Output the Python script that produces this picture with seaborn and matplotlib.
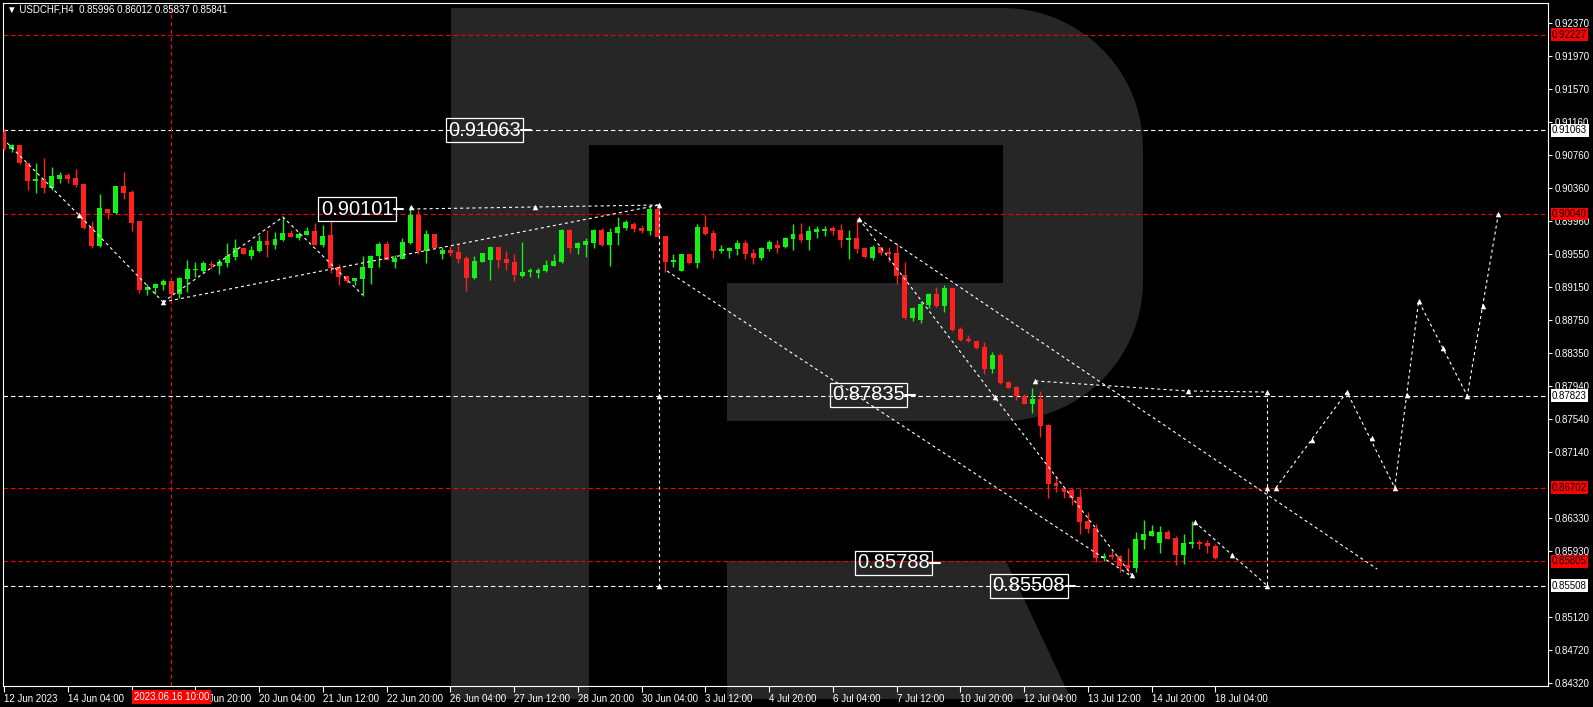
import matplotlib
matplotlib.use("Agg")
import matplotlib.pyplot as plt
import matplotlib.transforms as mtransforms
from matplotlib.patches import Polygon
import numpy as np
import seaborn as sns

sns.set_style("dark", {"axes.facecolor": "black", "figure.facecolor": "black"})
plt.rcParams["font.family"] = ["Liberation Sans", "DejaVu Sans"]
plt.rcParams["lines.scale_dashes"] = False

# ---------------- data ----------------
symbol = "USDCHF,H4"

opens = [0.91041, 0.90833, 0.90882, 0.90662, 0.90443, 0.90467, 0.90357, 0.90467, 0.90516, 0.90479,
         0.90406, 0.89882, 0.89650, 0.90101, 0.90052, 0.90382, 0.90309, 0.89955, 0.89113, 0.89138,
         0.89174, 0.89223, 0.89065, 0.89248, 0.89357, 0.89345, 0.89430, 0.89406, 0.89442, 0.89516,
         0.89625, 0.89528, 0.89589, 0.89711, 0.89662, 0.89723, 0.89808, 0.89747, 0.89784, 0.89833,
         0.89662, 0.89784, 0.89394, 0.89284, 0.89223, 0.89248, 0.89382, 0.89528, 0.89674, 0.89455,
         0.89491, 0.89686, 0.90028, 0.89589, 0.89796, 0.89552, 0.89601, 0.89577, 0.89504, 0.89260,
         0.89455, 0.89479, 0.89638, 0.89491, 0.89455, 0.89284, 0.89333, 0.89321, 0.89345, 0.89406,
         0.89455, 0.89845, 0.89625, 0.89662, 0.89686, 0.89845, 0.89662, 0.89808, 0.89870, 0.89918,
         0.89870, 0.89833, 0.90101, 0.89772, 0.89455, 0.89345, 0.89552, 0.89443, 0.89882, 0.89808,
         0.89589, 0.89589, 0.89613, 0.89686, 0.89564, 0.89504, 0.89613, 0.89662, 0.89638, 0.89735,
         0.89796, 0.89723, 0.89821, 0.89833, 0.89870, 0.89845, 0.89723, 0.89747, 0.89625, 0.89504,
         0.89638, 0.89577, 0.89564, 0.89296, 0.88772, 0.88747, 0.88930, 0.89065, 0.88918, 0.89138,
         0.88638, 0.88516, 0.88491, 0.88418, 0.88150, 0.88321, 0.87991, 0.87930, 0.87821, 0.87723,
         0.87784, 0.87467, 0.86759, 0.86698, 0.86674, 0.86589, 0.86296, 0.86210, 0.85845, 0.85881,
         0.85869, 0.85759, 0.85723, 0.86064, 0.86113, 0.86028, 0.86162, 0.86089, 0.85881, 0.86015,
         0.86040, 0.86028, 0.85996]
highs = [0.91077, 0.90894, 0.90882, 0.90662, 0.90662, 0.90723, 0.90614, 0.90553, 0.90540, 0.90589,
         0.90418, 0.89955, 0.90284, 0.90101, 0.90382, 0.90553, 0.90333, 0.89955, 0.89187, 0.89199,
         0.89248, 0.89223, 0.89272, 0.89479, 0.89455, 0.89467, 0.89467, 0.89491, 0.89686, 0.89735,
         0.89630, 0.89650, 0.89784, 0.89845, 0.89821, 0.90004, 0.89845, 0.89821, 0.89882, 0.89930,
         0.89906, 0.89967, 0.89430, 0.89284, 0.89260, 0.89528, 0.89540, 0.89699, 0.89711, 0.89540,
         0.89747, 0.90138, 0.90089, 0.89845, 0.89796, 0.89638, 0.89650, 0.89674, 0.89528, 0.89528,
         0.89564, 0.89650, 0.89638, 0.89589, 0.89552, 0.89699, 0.89382, 0.89382, 0.89479, 0.89552,
         0.89857, 0.89857, 0.89699, 0.89747, 0.89857, 0.89870, 0.89870, 0.90004, 0.89967, 0.89943,
         0.89906, 0.90150, 0.90162, 0.89772, 0.89552, 0.89552, 0.89552, 0.89918, 0.90028, 0.89845,
         0.89662, 0.89638, 0.89723, 0.89723, 0.89613, 0.89638, 0.89723, 0.89723, 0.89760, 0.89918,
         0.89930, 0.89894, 0.89894, 0.89894, 0.89894, 0.89918, 0.89845, 0.89991, 0.89638, 0.89662,
         0.89638, 0.89638, 0.89686, 0.89455, 0.88906, 0.88979, 0.89077, 0.89150, 0.89174, 0.89138,
         0.88662, 0.88564, 0.88491, 0.88479, 0.88357, 0.88345, 0.88004, 0.87942, 0.87845, 0.87918,
         0.87882, 0.87479, 0.86845, 0.86711, 0.86698, 0.86686, 0.86406, 0.86259, 0.85906, 0.85930,
         0.85881, 0.85967, 0.86162, 0.86308, 0.86247, 0.86235, 0.86186, 0.86113, 0.86137, 0.86296,
         0.86064, 0.86064, 0.86012]
lows = [0.90821, 0.90797, 0.90650, 0.90333, 0.90296, 0.90296, 0.90333, 0.90418, 0.90418, 0.90370,
        0.89857, 0.89625, 0.89638, 0.89979, 0.90040, 0.90223, 0.89833, 0.89077, 0.89052, 0.89065,
        0.89113, 0.89004, 0.89016, 0.89089, 0.89272, 0.89333, 0.89370, 0.89309, 0.89394, 0.89479,
        0.89548, 0.89491, 0.89577, 0.89516, 0.89613, 0.89711, 0.89760, 0.89723, 0.89784, 0.89662,
        0.89638, 0.89321, 0.89174, 0.89199, 0.89174, 0.89040, 0.89187, 0.89394, 0.89479, 0.89382,
        0.89491, 0.89674, 0.89552, 0.89443, 0.89625, 0.89491, 0.89528, 0.89443, 0.89101, 0.89248,
        0.89455, 0.89235, 0.89382, 0.89357, 0.89223, 0.89272, 0.89272, 0.89260, 0.89333, 0.89406,
        0.89443, 0.89564, 0.89552, 0.89516, 0.89625, 0.89650, 0.89406, 0.89662, 0.89845, 0.89821,
        0.89808, 0.89784, 0.89760, 0.89333, 0.89394, 0.89345, 0.89430, 0.89382, 0.89784, 0.89504,
        0.89564, 0.89504, 0.89540, 0.89491, 0.89430, 0.89479, 0.89589, 0.89564, 0.89625, 0.89601,
        0.89699, 0.89601, 0.89747, 0.89772, 0.89784, 0.89638, 0.89491, 0.89564, 0.89504, 0.89479,
        0.89540, 0.89455, 0.89187, 0.88760, 0.88735, 0.88711, 0.88894, 0.88906, 0.88845, 0.88613,
        0.88491, 0.88479, 0.88394, 0.88089, 0.88101, 0.87967, 0.87918, 0.87772, 0.87723, 0.87613,
        0.87321, 0.86576, 0.86650, 0.86576, 0.86491, 0.86137, 0.86150, 0.85796, 0.85808, 0.85832,
        0.85674, 0.85662, 0.85674, 0.85954, 0.86113, 0.85906, 0.86076, 0.85759, 0.85771, 0.85967,
        0.85954, 0.85906, 0.85837]
closes = [0.90833, 0.90882, 0.90662, 0.90443, 0.90467, 0.90357, 0.90504, 0.90516, 0.90467, 0.90394,
          0.89870, 0.89650, 0.90113, 0.90052, 0.90382, 0.90296, 0.89930, 0.89113, 0.89150, 0.89187,
          0.89223, 0.89065, 0.89260, 0.89370, 0.89370, 0.89443, 0.89418, 0.89455, 0.89528, 0.89625,
          0.89552, 0.89601, 0.89711, 0.89662, 0.89735, 0.89808, 0.89760, 0.89796, 0.89833, 0.89662,
          0.89772, 0.89382, 0.89272, 0.89223, 0.89260, 0.89394, 0.89528, 0.89674, 0.89479, 0.89504,
          0.89699, 0.90028, 0.89589, 0.89796, 0.89625, 0.89601, 0.89564, 0.89491, 0.89260, 0.89467,
          0.89564, 0.89638, 0.89479, 0.89443, 0.89296, 0.89333, 0.89357, 0.89357, 0.89418, 0.89467,
          0.89845, 0.89625, 0.89686, 0.89711, 0.89845, 0.89662, 0.89821, 0.89882, 0.89943, 0.89857,
          0.89833, 0.90101, 0.89760, 0.89455, 0.89479, 0.89552, 0.89443, 0.89882, 0.89796, 0.89589,
          0.89613, 0.89625, 0.89686, 0.89552, 0.89504, 0.89625, 0.89699, 0.89625, 0.89747, 0.89796,
          0.89723, 0.89833, 0.89857, 0.89857, 0.89833, 0.89723, 0.89747, 0.89613, 0.89516, 0.89638,
          0.89564, 0.89552, 0.89284, 0.88772, 0.88894, 0.88942, 0.89065, 0.88918, 0.89138, 0.88625,
          0.88503, 0.88491, 0.88406, 0.88150, 0.88321, 0.87979, 0.87918, 0.87821, 0.87723, 0.87784,
          0.87455, 0.86747, 0.86723, 0.86650, 0.86576, 0.86284, 0.86198, 0.85845, 0.85869, 0.85857,
          0.85747, 0.85723, 0.86076, 0.86137, 0.86174, 0.86162, 0.86076, 0.85881, 0.86028, 0.86040,
          0.86015, 0.85991, 0.85841]

# "15 Jun 12:00" sits under the crosshair tag in the original, so it is left blank
time_labels = ["12 Jun 2023", "14 Jun 04:00", "", "16 Jun 20:00", "20 Jun 04:00",
               "21 Jun 12:00", "22 Jun 20:00", "26 Jun 04:00", "27 Jun 12:00", "28 Jun 20:00",
               "30 Jun 04:00", "3 Jul 12:00", "4 Jul 20:00", "6 Jul 04:00", "7 Jul 12:00",
               "10 Jul 20:00", "12 Jul 04:00", "13 Jul 12:00", "14 Jul 20:00", "18 Jul 04:00"]
time_label_bars = [0, 8, 16, 24, 32, 40, 48, 56, 64, 72, 80, 88, 96, 104, 112, 120, 128, 136, 144, 152]

price_ticks = [0.92370, 0.91970, 0.91570, 0.91160, 0.90760, 0.90360, 0.89960, 0.89550, 0.89150,
               0.88750, 0.88350, 0.87940, 0.87540, 0.87140, 0.86330, 0.85930, 0.85120, 0.84720,
               0.84320]

# horizontal levels: price, colour
level_prices = [0.92227, 0.91063, 0.90040, 0.87823, 0.86702, 0.85805, 0.85508]
level_colors = ["#ff0000", "white", "#ff0000", "white", "#ff0000", "#ff0000", "white"]

# crosshair
cross_bar = 21
cross_text = "2023.06.16 10:00"

# boxed price labels: text, price, anchor bar
box_texts = ["0.91063", "0.90101", "0.87835", "0.85788", "0.85508"]
box_prices = [0.91063, 0.90101, 0.87835, 0.85788, 0.85508]
box_anchor_bars = [66.1, 50.1, 114.3, 117.4, 134.4]

# dashed analysis lines (bar position, price)
path_bars = [
    [0.4, 9.4, 19.95],
    [19.95, 35.0, 45.0],
    [19.95, 82.2],
    [51.1, 66.6, 82.2],
    [82.2, 82.2],
    [83.2, 141.4],
    [107.3, 124.3, 141.5],
    [107.3, 172.3],
    [129.4, 148.5, 158.5],
    [149.4, 154.1, 158.5],
    [158.5, 158.5],
    [159.6, 168.5, 174.5, 177.5, 183.6, 187.5],
]
path_prices = [
    [0.90906, 0.90028, 0.88967],
    [0.88967, 0.90004, 0.89052],
    [0.88967, 0.90150],
    [0.90101, 0.90126, 0.90150],
    [0.90150, 0.85508],
    [0.89345, 0.85625],
    [0.89979, 0.87808, 0.85637],
    [0.89979, 0.85710],
    [0.88004, 0.87882, 0.87869],
    [0.86284, 0.85881, 0.85508],
    [0.87869, 0.85508],
    [0.86702, 0.87870, 0.86702, 0.88979, 0.87823, 0.90040],
]

mark_bars = [9.4, 19.95, 51.1, 66.6, 82.2, 82.2, 82.2, 107.3, 124.3, 141.5, 129.4, 148.5,
             158.5, 149.4, 154.1, 158.5, 158.5, 159.6, 164.1, 168.5, 171.6, 174.5, 176.0,
             177.5, 180.6, 183.6, 185.6, 187.5]
mark_prices = [0.90028, 0.88967, 0.90126, 0.90126, 0.90150, 0.87823, 0.85508, 0.89979, 0.87808,
               0.85637, 0.88004, 0.87882, 0.87869, 0.86284, 0.85881, 0.85508, 0.86702, 0.86702,
               0.87284, 0.87870, 0.87308, 0.86702, 0.87833, 0.88979, 0.88406, 0.87823, 0.88918,
               0.90040]

BULL = "#14f014"
BEAR = "#ff2020"
LOGO = "#262626"

# ---------------- figure ----------------
W, H = 1593, 707
fig = plt.figure(figsize=(W / 100, H / 100), dpi=100, facecolor="black")
ax = fig.add_axes([3 / W, 1 - 686 / H, 1545 / W, 683 / H])
ax.set_facecolor("none")


def to_fig(pts):
    return [(x / W, 1 - y / H) for x, y in pts]


# watermark "R"
t1 = np.linspace(np.pi / 2, 0, 24)
t2 = np.linspace(0, -np.pi / 2, 24)
arc1 = [(1003 + 140 * np.cos(t), 148 - 140 * np.sin(t)) for t in t1]
arc2 = [(1003 + 140 * np.cos(t), 281 - 140 * np.sin(t)) for t in t2]
r_outline = ([(451, 8)] + arc1 + arc2 +
             [(727, 421), (727, 283), (1003, 283), (1003, 145), (589, 145), (589, 699), (451, 699)])
leg = [(727, 561), (1006, 561), (1071, 699), (727, 699)]
for shape in (r_outline, leg):
    fig.patches.append(Polygon(to_fig(shape), closed=True, transform=fig.transFigure,
                               facecolor=LOGO, edgecolor="none", zorder=-1))

# levels
for val, col in zip(level_prices, level_colors):
    ax.axhline(val, color=col, lw=0.8, dashes=(3.2, 2.2), zorder=2)
ax.axvline(cross_bar, color="#ff0000", lw=0.8, dashes=(3.2, 2.2), zorder=2)

# candles
o = np.array(opens)
h = np.array(highs)
l = np.array(lows)
c = np.array(closes)
idx = np.arange(len(o))
cols = np.where(c >= o, BULL, BEAR)
ax.vlines(idx, l, h, colors=cols, lw=1.0, zorder=3)
ax.bar(idx, np.maximum(np.abs(c - o), 0.00011), bottom=np.minimum(o, c), width=0.62,
       color=cols, linewidth=0, zorder=4)

# analysis lines
for xs, ys in zip(path_bars, path_prices):
    sns.lineplot(x=xs, y=ys, sort=False, estimator=None, errorbar=None, color="white",
                 lw=0.8, linestyle=(0, (2.2, 2.2)), ax=ax, zorder=5)
sns.scatterplot(x=mark_bars, y=mark_prices, marker="^", s=16, color="white",
                linewidth=0, ax=ax, zorder=6)

# boxed price labels
for txt, val, anc in zip(box_texts, box_prices, box_anchor_bars):
    ax.text(anc - 1.25, val, txt, ha="right", va="center", fontsize=14.5, color="white",
            bbox=dict(boxstyle="square,pad=0.12", fc="none", ec="white", lw=0.9), zorder=7)
    ax.plot([anc - 1.2, anc], [val, val], color="white", lw=1.5, zorder=7)

# axes
ax.set_xlim(-0.125, 193.73)
ax.set_ylim(0.842834, 0.926139)
ax.grid(False)
ax.yaxis.tick_right()
ax.set_yticks(price_ticks)
ax.set_yticklabels([f"{v:.5f}" for v in price_ticks])
ax.tick_params(axis="y", colors="white", length=3, width=0.8, pad=2, labelsize=7,
               direction="out", right=True, left=False)
ax.set_xticks(time_label_bars)
ax.set_xticklabels(time_labels)
ax.tick_params(axis="x", colors="white", length=4, width=0.8, pad=2, labelsize=7,
               direction="out", bottom=True)
for t in ax.get_xticklabels():
    t.set_ha("left")
for s in ax.spines.values():
    s.set_visible(True)
    s.set_color("white")
    s.set_linewidth(0.8)

# coloured price tags on the right scale
tag_tr = mtransforms.blended_transform_factory(fig.transFigure, ax.transData)
for val, col in zip(level_prices, level_colors):
    ax.text(1552 / W, val, f"{val:.5f}", transform=tag_tr, fontsize=7,
            color="black", ha="left", va="center", clip_on=False,
            bbox=dict(boxstyle="square,pad=0.15", fc=col, ec="none"), zorder=10)

# crosshair time tag
time_tr = mtransforms.blended_transform_factory(ax.transData, fig.transFigure)
ax.text(cross_bar, 1 - 697 / H, cross_text, transform=time_tr, fontsize=7, color="white",
        ha="center", va="center", clip_on=False,
        bbox=dict(boxstyle="square,pad=0.2", fc="#ff0000", ec="none"), zorder=10)

# header
fig.text(7 / W, 1 - 10 / H,
         f"\u25bc {symbol}  {opens[-1]:.5f} {highs[-1]:.5f} {lows[-1]:.5f} {closes[-1]:.5f}",
         color="white", fontsize=7, ha="left", va="center")

fig.savefig("out.png", dpi=100, facecolor="black")
